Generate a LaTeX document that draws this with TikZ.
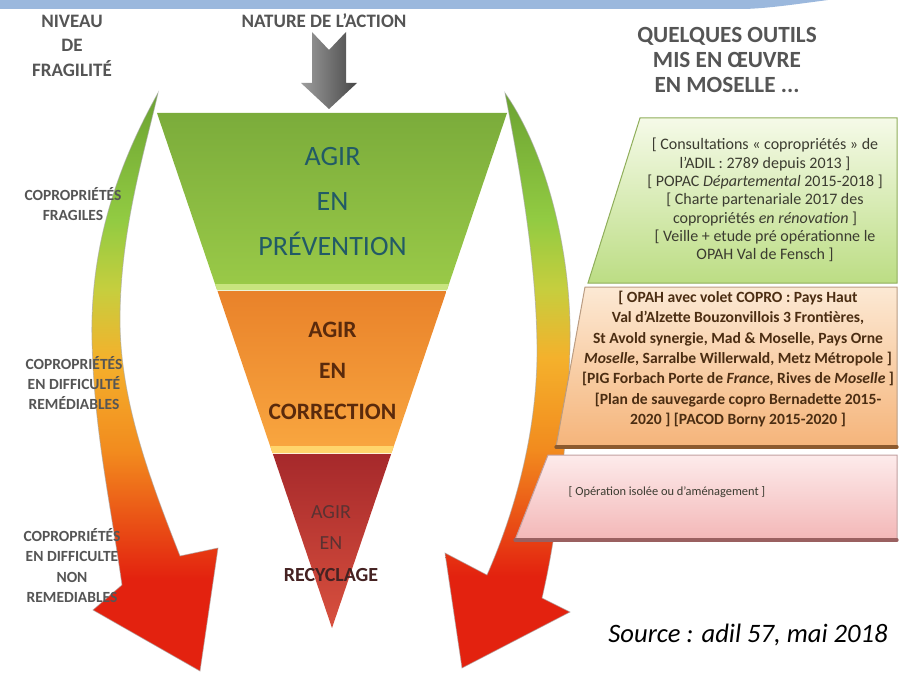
\documentclass[tikz,border=0pt]{standalone}
\usepackage{fontspec}
\setmainfont{Carlito}

% colours of the picture
\definecolor{bandblue}{HTML}{9BB8DD}
\definecolor{labelgray}{HTML}{555555}
\definecolor{actiongray}{HTML}{9E9E9E}
\definecolor{actiondark}{HTML}{474747}
\definecolor{arrowred}{HTML}{E3220F}
\definecolor{arroworange}{HTML}{F28B1E}
\definecolor{arrowamber}{HTML}{F4B12C}
\definecolor{arrowlime}{HTML}{C6CE3E}
\definecolor{arrowgreen}{HTML}{92CB42}
\definecolor{arrowdeep}{HTML}{6BA232}
\definecolor{greentop}{HTML}{7BAC3B}
\definecolor{greenbot}{HTML}{9ACA48}
\definecolor{greenlight}{HTML}{C8E47E}
\definecolor{orangetop}{HTML}{E9822A}
\definecolor{orangebot}{HTML}{F9A740}
\definecolor{orangelight}{HTML}{FFD56C}
\definecolor{redtop}{HTML}{A6292B}
\definecolor{redbot}{HTML}{D8503E}
\definecolor{preventext}{HTML}{225A66}
\definecolor{correctext}{HTML}{5A2A0C}
\definecolor{recytext}{HTML}{5A3232}
\definecolor{recydark}{HTML}{452222}
\definecolor{boxgreentop}{HTML}{F5FAE8}
\definecolor{boxgreenbot}{HTML}{BCDD84}
\definecolor{boxgreenedge}{HTML}{8FAE5A}
\definecolor{boxorangetop}{HTML}{FCE9D4}
\definecolor{boxorangebot}{HTML}{F5B47A}
\definecolor{boxorangeedge}{HTML}{8C5A2E}
\definecolor{boxpinktop}{HTML}{FDEBEB}
\definecolor{boxpinkbot}{HTML}{F3B7B7}
\definecolor{boxpinkedge}{HTML}{9A6060}
\definecolor{boxtext}{HTML}{3B3B30}
\definecolor{corrboxtext}{HTML}{4B2D12}

% green at the top, red at the bottom (path box = 25bp..75bp)
\pgfdeclareverticalshading{fragility}{100bp}{color(0bp)=(arrowred); color(33bp)=(arrowred); color(44bp)=(arroworange); color(52bp)=(arrowamber); color(58bp)=(arrowlime); color(64bp)=(arrowgreen); color(75bp)=(arrowdeep); color(100bp)=(arrowdeep)}

\begin{document}
\begin{tikzpicture}[x=0.5pt,y=-0.5pt,
  headlabel/.style={font=\fontsize{9.5}{12.25}\selectfont\bfseries,text=labelgray,align=center},
  toolshead/.style={font=\fontsize{11.6}{12.5}\selectfont\bfseries,text=labelgray,align=center},
  sidelabel/.style={font=\fontsize{7.75}{10.1}\selectfont\bfseries,text=labelgray,align=center},
  sidearrow/.style={shading=fragility,draw=black!35,draw opacity=.6,line width=.4pt},
  boxline/.style={line width=1.6pt,line cap=round}]

% white page of 899 x 674 px
\useasboundingbox (0,0) rectangle (899,674);
\fill[white] (0,0) rectangle (899,674);

% blue band along the top
\fill[bandblue] (0,0) -- (828,0) .. controls (790,5) and (770,8) .. (745,9) -- (0,9) -- cycle;

% left curved arrow (niveau de fragilite)
\shade[sidearrow] (158,93) .. controls (115,170) and (90,250) .. (92,340)
  .. controls (94,430) and (110,500) .. (122,585) -- (93,610) -- (200,671) -- (218,548) -- (180,556)
  .. controls (150,480) and (120,400) .. (120,320) .. controls (120,230) and (145,150) .. (158,93) -- cycle;

% right curved arrow (outils)
\shade[sidearrow] (505,93) .. controls (545,150) and (572,250) .. (570,345)
  .. controls (568,430) and (560,520) .. (542,598) -- (570,612) -- (462,668) -- (445,553) -- (487,575)
  .. controls (520,500) and (538,420) .. (537,345) .. controls (536,260) and (520,170) .. (505,93) -- cycle;

% grey arrow: nature de l'action
\shade[left color=actiongray,right color=actiondark] (312,32) -- (329,50) -- (346,32) -- (346,83)
  -- (357,83) -- (329,109) -- (301,83) -- (312,83) -- cycle;

% funnel: prevention
\shade[top color=greentop,bottom color=greenbot] (157,113) -- (507,113) -- (446.9,290) -- (217.1,290) -- cycle;
\fill[greenlight] (215.1,284) -- (448.9,284) -- (446.9,290) -- (217.1,290) -- cycle;

% funnel: correction
\shade[top color=orangetop,bottom color=orangebot] (217.5,291) -- (446.5,291) -- (391.5,453) -- (272.5,453) -- cycle;
\fill[orangelight] (270.2,446) -- (393.8,446) -- (391.5,453) -- (272.5,453) -- cycle;

% funnel: recyclage
\shade[top color=redtop,bottom color=redbot] (272.9,454) -- (391.1,454) -- (332,628) -- cycle;

% tool boxes, their left sides follow the arrow
\shade[top color=boxgreentop,bottom color=boxgreenbot,draw=boxgreenedge,line width=.5pt]
  (640,118) -- (897,118) -- (897,283) -- (588,283) -- cycle;
\shade[top color=boxorangetop,bottom color=boxorangebot,draw=boxorangeedge!60,line width=.5pt]
  (585,287) -- (897,287) -- (897,447) -- (556,447) -- cycle;
\draw[boxline,boxorangeedge] (556,447) -- (897,447);
\shade[top color=boxpinktop,bottom color=boxpinkbot,draw=boxpinkedge!60,line width=.5pt]
  (548,455) -- (897,455) -- (897,540) -- (515,540) -- cycle;
\draw[boxline,boxpinkedge] (515,540) -- (897,540);

% column heads
\node[headlabel] (niveau) at (72,45.5) {NIVEAU\\DE\\FRAGILITÉ};
\node[headlabel] (nature) at (324,21) {NATURE DE L’ACTION};
\node[toolshead] (outils) at (727,60) {QUELQUES OUTILS\\MIS EN ŒUVRE\\EN MOSELLE ...};

% levels of fragility
\node[sidelabel] (fragiles) at (73,204) {COPROPRIÉTÉS\\FRAGILES};
\node[sidelabel] (remediables) at (74,383) {COPROPRIÉTÉS\\EN DIFFICULTÉ\\REMÉDIABLES};
\node[sidelabel] (nonremed) at (72,565.5) {COPROPRIÉTÉS\\EN DIFFICULTE\\NON\\REMEDIABLES};

% funnel texts
\node[font=\fontsize{14}{22.5}\selectfont,text=preventext,align=center] (prevention) at (332.5,202) {AGIR\\EN\\PRÉVENTION};
\node[font=\fontsize{11.75}{20.5}\selectfont\bfseries,text=correctext,align=center] (correction) at (332.5,371) {AGIR\\EN\\CORRECTION};
\node[font=\fontsize{10}{15.75}\selectfont,text=recytext,align=center] (recyclage) at (331,543.5) {AGIR\\EN\\\textbf{\color{recydark}RECYCLAGE}};

% tools in Moselle
\node[font=\fontsize{8}{9.17}\selectfont,text=boxtext,align=center] (prevtools) at (765,200)
  {{[} Consultations « copropriétés » de\\l’ADIL : 2789 depuis 2013 {]}\\{[} POPAC \textit{Départemental} 2015-2018 {]}\\{[} Charte partenariale 2017 des\\copropriétés \textit{en rénovation} {]}\\{[} Veille + etude pré opérationne le\\OPAH Val de Fensch {]}};
\node[font=\fontsize{7.8}{10.15}\selectfont\bfseries,text=corrboxtext,align=center] (corrtools) at (738,359)
  {{[} OPAH avec volet COPRO : Pays Haut\\Val d’Alzette Bouzonvillois 3 Frontières,\\St Avold synergie, Mad \& Moselle, Pays Orne\\\textit{Moselle}, Sarralbe Willerwald, Metz Métropole {]}\\{[}PIG Forbach Porte de \textit{France}, Rives de \textit{Moselle} {]}\\{[}Plan de sauvegarde copro Bernadette 2015-\\2020 {]} {[}PACOD Borny 2015-2020 {]}};
\node[font=\fontsize{6.2}{7.5}\selectfont,text=boxtext] (recytools) at (667,492) {{[} Opération isolée ou d’aménagement {]}};

% source
\node[font=\fontsize{13.3}{15}\selectfont\itshape] (source) at (748,635) {Source : adil 57, mai 2018};

\end{tikzpicture}
\end{document}
